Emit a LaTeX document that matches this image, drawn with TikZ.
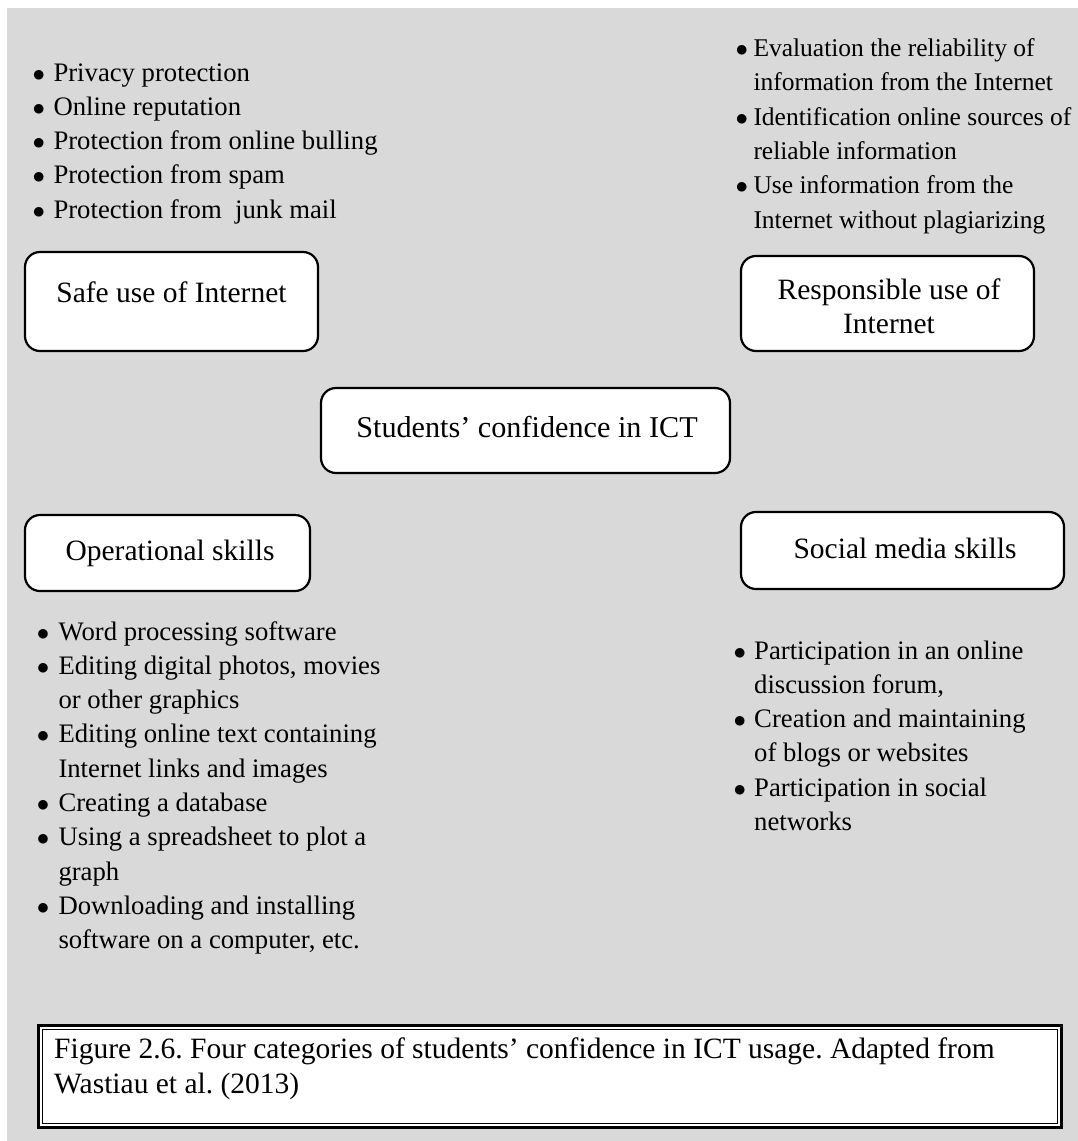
\documentclass[tikz,border=0pt]{standalone}
\usepackage{fontspec}
\setmainfont{Liberation Serif}
\usepackage{array}
% bullet with a fixed hanging indent, and the matching indent for wrapped lines
\newcommand\bi[1]{\makebox[#1pt][l]{\hspace*{-2pt}$\bullet$}}
\newcommand\hi[1]{\hspace*{#1pt}}
\begin{document}
\frenchspacing
\begin{tikzpicture}[x=1pt,y=-1pt,
  catbox/.style={draw=black, line width=2.2pt, fill=white, rounded corners=15pt, inner sep=0pt},
  cattext/.style={inner sep=0pt, anchor=base, font=\fontsize{29.5}{34}\selectfont, align=center},
  bullist/.style={inner sep=0pt, anchor=base west, font=\fontsize{26.7}{34.3}\selectfont},
  captext/.style={inner sep=0pt, anchor=base west, font=\fontsize{29.5}{35}\selectfont},
]
\useasboundingbox (0,0) rectangle (1078,1141);
% grey panel
\fill[fill={rgb,255:red,217;green,217;blue,217}] (7,8) rectangle (1078,1141);

% category boxes
\node[catbox, minimum width=293pt, minimum height=99pt] (safe) at (171.5,301.5) {};
\node[cattext] (safetxt) at (171.5,302) {Safe use of Internet};

\node[catbox, minimum width=293pt, minimum height=95pt] (resp) at (887.5,303.5) {};
\node[cattext] (resptxt) at (889,333) {Responsible use of\\Internet};

\node[catbox, minimum width=409pt, minimum height=85pt] (conf) at (525.5,430.5) {};
\node[cattext, font=\fontsize{30.2}{34}\selectfont] (conftxt) at (527,437) {Students’ confidence in ICT};

\node[catbox, minimum width=285pt, minimum height=76pt] (oper) at (167.5,553) {};
\node[cattext] (opertxt) at (170,560) {Operational skills};

\node[catbox, minimum width=323pt, minimum height=77pt] (soc) at (902.5,550.5) {};
\node[cattext] (soctxt) at (905,558) {Social media skills};

% bullet lists
\node[bullist] (safelist) at (34.3,81) {\begin{tabular}[t]{@{}l@{}}
\bi{19}Privacy protection\\
\bi{19}Online reputation\\
\bi{19}Protection from online bulling\\
\bi{19}Protection from spam\\
\bi{19}Protection from~ junk mail
\end{tabular}};

\node[bullist, font=\fontsize{25.5}{34.3}\selectfont] (resplist) at (737.3,56.5) {\begin{tabular}[t]{@{}l@{}}
\bi{16}Evaluation the reliability of\\
\hi{16}information from the Internet\\
\bi{16}Identification online sources of\\
\hi{16}reliable information\\
\bi{16}Use information from the\\
\hi{16}Internet without plagiarizing
\end{tabular}};

\node[bullist] (operlist) at (38.6,640) {\begin{tabular}[t]{@{}l@{}}
\bi{19.7}Word processing software\\
\bi{19.7}Editing digital photos, movies\\
\hi{19.7}or other graphics\\
\bi{19.7}Editing online text containing\\
\hi{19.7}Internet links and images\\
\bi{19.7}Creating a database\\
\bi{19.7}Using a spreadsheet to plot a\\
\hi{19.7}graph\\
\bi{19.7}Downloading and installing\\
\hi{19.7}software on a computer, etc.
\end{tabular}};

\node[bullist] (soclist) at (735.3,659) {\begin{tabular}[t]{@{}l@{}}
\bi{18.7}Participation in an online\\
\hi{18.7}discussion forum,\\
\bi{18.7}Creation and maintaining\\
\hi{18.7}of blogs or websites\\
\bi{18.7}Participation in social\\
\hi{18.7}networks
\end{tabular}};

% caption frame: thick outer rule, thin inner rule
\node[draw=black, line width=3pt, fill=white, inner sep=0pt,
      minimum width=1023pt, minimum height=102pt] (capframe) at (550,1076.5) {};
\node[draw=black, line width=1.5pt, inner sep=0pt,
      minimum width=1015pt, minimum height=94pt] (capinner) at (550,1076.5) {};
\node[captext] (caption) at (54,1058) {\begin{tabular}[t]{@{}l@{}}
Figure 2.6. Four categories of students’ confidence in ICT usage. Adapted from\\
Wastiau et al. (2013)
\end{tabular}};
\end{tikzpicture}
\end{document}
